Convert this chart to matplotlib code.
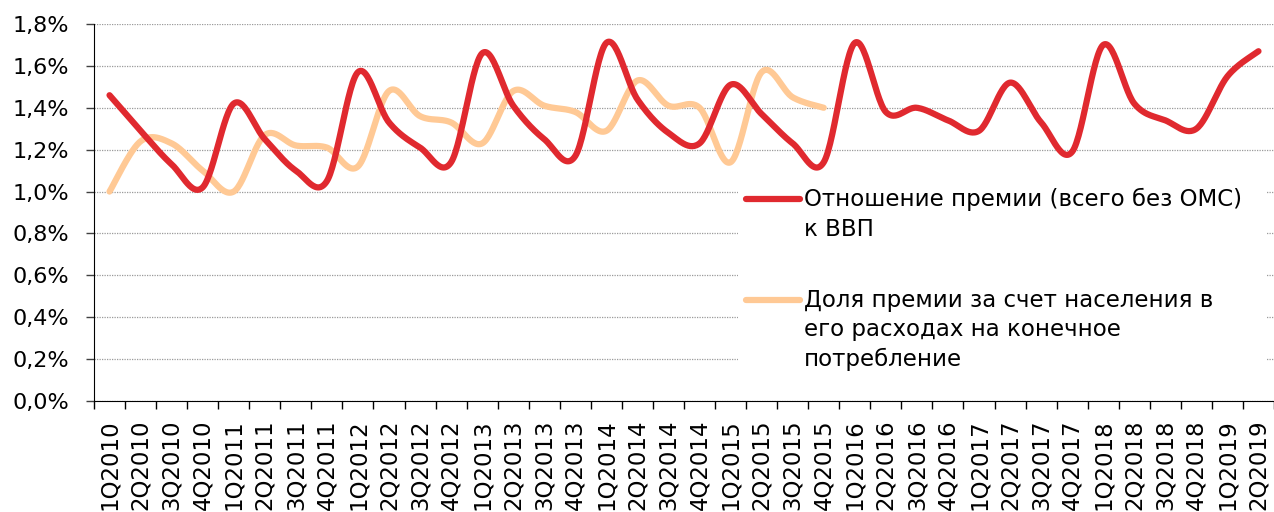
import numpy as np
import matplotlib
matplotlib.use("Agg")
import matplotlib.pyplot as plt
from matplotlib.ticker import FuncFormatter
from matplotlib.patches import Rectangle

plt.rcParams['font.family'] = ['DejaVu Sans']

quarters = [f"{q}Q{y}" for y in range(2010, 2020) for q in range(1, 5)][:38]

# premium to GDP, %
premium_gdp = [1.46, 1.29, 1.13, 1.02, 1.42, 1.25, 1.10, 1.05, 1.57, 1.33,
               1.21, 1.14, 1.66, 1.41, 1.25, 1.17, 1.71, 1.44, 1.28, 1.23,
               1.51, 1.37, 1.23, 1.14, 1.71, 1.38, 1.40, 1.34, 1.29, 1.52,
               1.33, 1.19, 1.70, 1.42, 1.34, 1.30, 1.55, 1.67]
# household premium share in final consumption, %
premium_share = [1.00, 1.24, 1.23, 1.10, 1.00, 1.27, 1.22, 1.21, 1.12, 1.48,
                 1.36, 1.33, 1.23, 1.48, 1.41, 1.38, 1.29, 1.53, 1.41, 1.40,
                 1.14, 1.57, 1.45, 1.40]

label_gdp = ["Отношение премии (всего без ОМС)", "к ВВП"]
label_share = ["Доля премии за счет населения в", "его расходах на конечное", "потребление"]

red = '#E0292F'
orange = '#FFC995'


def smooth(y, n=30):
    # excel-like smoothed line (bezier through the points)
    p = np.column_stack([np.arange(len(y)), y]).astype(float)
    ext = np.vstack([p[0], p, p[-1]])
    xs, ys = [], []
    t = np.linspace(0, 1, n)[:, None]
    for i in range(len(p) - 1):
        p0, p3 = p[i], p[i + 1]
        c1 = p0 + (ext[i + 2] - ext[i]) / 6
        c2 = p3 - (ext[i + 3] - ext[i + 1]) / 6
        seg = ((1 - t) ** 3) * p0 + 3 * ((1 - t) ** 2) * t * c1 + 3 * (1 - t) * t ** 2 * c2 + t ** 3 * p3
        xs.extend(seg[:, 0]); ys.extend(seg[:, 1])
    return np.array(xs), np.array(ys)


fig = plt.figure(figsize=(12.74, 5.12), dpi=100)
ax = fig.add_axes([94 / 1274, 1 - 401 / 512, 1180 / 1274, 377 / 512])

ax.set_ylim(0, 1.8)
ax.set_xlim(-0.5, len(quarters) - 0.5)
ax.set_yticks(np.arange(0, 1.81, 0.2))
ax.yaxis.set_major_formatter(FuncFormatter(lambda v, _: f"{v:.1f}%".replace('.', ',')))
ax.yaxis.grid(True, color='#9a9a9a', linestyle=(0, (1, 1)), linewidth=0.9)
ax.set_axisbelow(True)

ax.set_xticks(np.arange(len(quarters)))
ax.set_xticklabels(quarters, rotation=90, fontsize=16.5)
ax.set_xticks(np.arange(-0.5, len(quarters)), minor=True)
ax.tick_params(axis='x', which='major', length=0, pad=13)
ax.tick_params(axis='x', which='minor', length=6, width=1)
ax.tick_params(axis='y', length=6, width=1, labelsize=16, pad=12, color='#404040')

for s in ['top', 'right']:
    ax.spines[s].set_visible(False)
ax.spines['left'].set_color('black')
ax.spines['bottom'].set_color('black')

x1, y1 = smooth(premium_gdp)
x2, y2 = smooth(premium_share)
ax.plot(x2, y2, color=orange, linewidth=4.5, solid_capstyle='round', zorder=3)
ax.plot(x1, y1, color=red, linewidth=4.5, solid_capstyle='round', zorder=4)

# legend block
def ax_pt(px, py):
    return (px - 94) / 1180, (401 - py) / 377

lx0, ly0 = ax_pt(738, 385)
lx1, ly1 = ax_pt(1266, 180)
ax.add_patch(Rectangle((lx0, ly0), lx1 - lx0, ly1 - ly0, transform=ax.transAxes,
                       facecolor='white', edgecolor='none', zorder=2))

for color, lines, y0, step in [(red, label_gdp, 199, 30), (orange, label_share, 300, 29.5)]:
    a, b = ax_pt(746, y0)
    c, _ = ax_pt(800, y0)
    ax.plot([a, c], [b, b], transform=ax.transAxes, color=color, linewidth=4.5,
            solid_capstyle='round', zorder=5)
    for k, line in enumerate(lines):
        tx, ty = ax_pt(804, y0 + k * step)
        ax.text(tx, ty, line, transform=ax.transAxes, fontsize=16.5, va='center', ha='left', zorder=5)

fig.savefig("out.png", dpi=100)
